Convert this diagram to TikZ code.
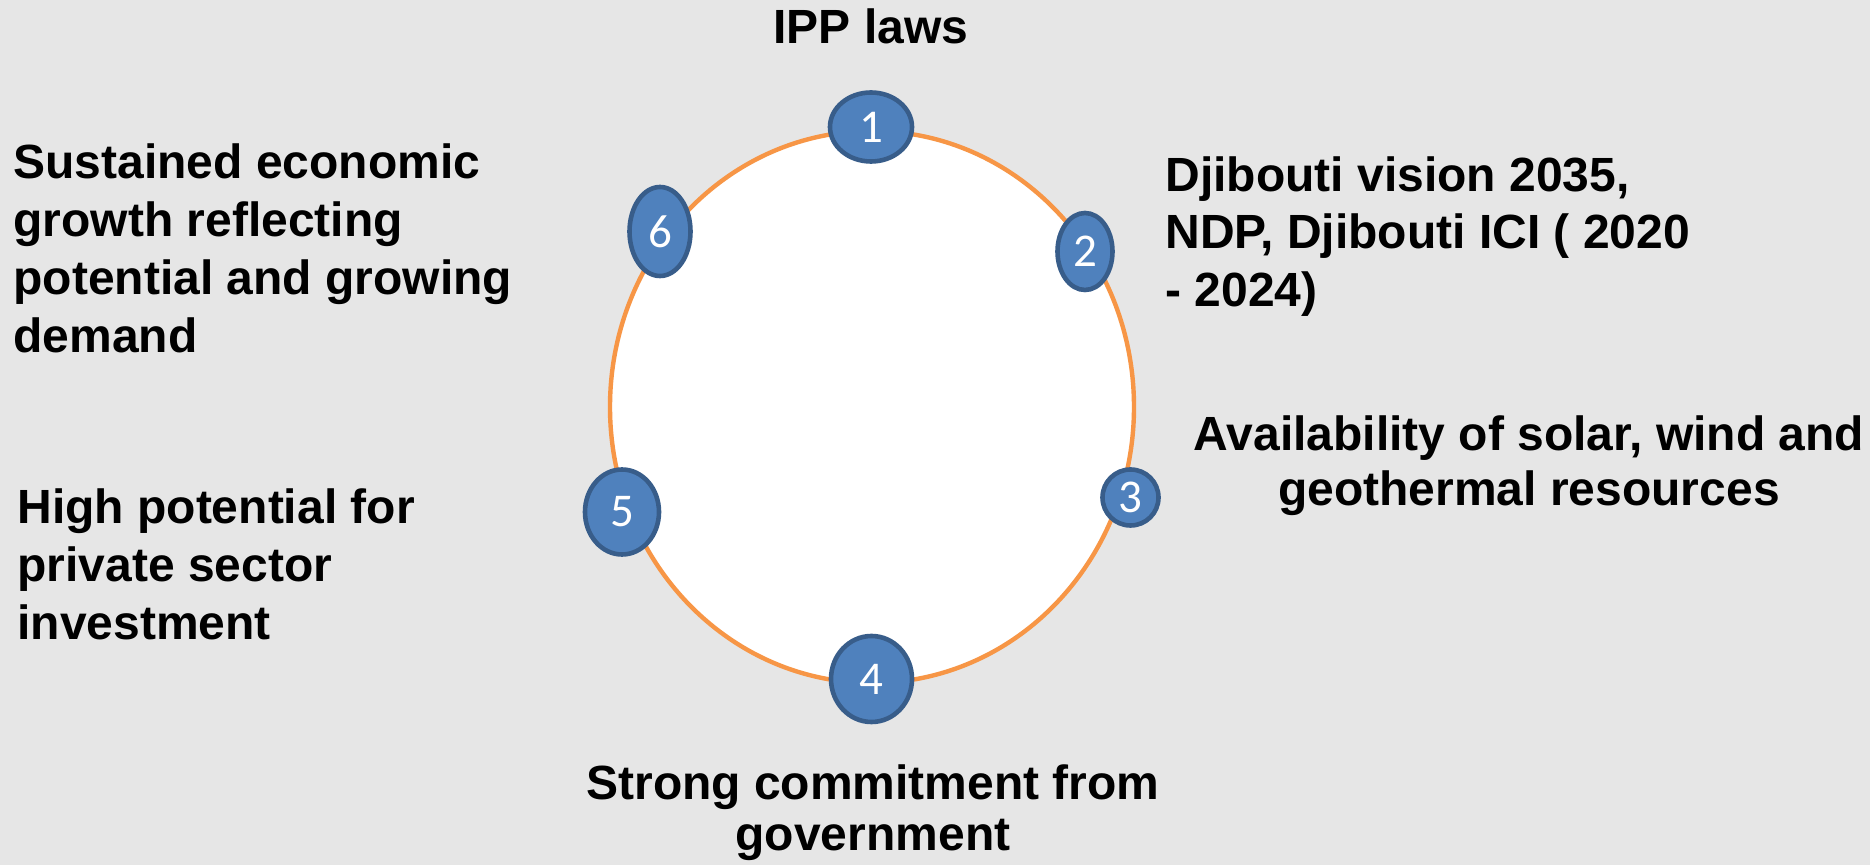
\documentclass[tikz,border=0pt]{standalone}
\usepackage{fontspec}
\setmainfont{Liberation Sans}
\newfontfamily\numfont{Carlito}
\usetikzlibrary{shapes.geometric}

\definecolor{slidebg}{HTML}{E6E6E6}
\definecolor{ringorange}{HTML}{F79646}
\definecolor{badgefill}{HTML}{4F81BD}
\definecolor{badgeline}{HTML}{385D8A}

\tikzset{
  ring/.style={ellipse, draw=ringorange, line width=2.2pt, fill=white, inner sep=0pt},
  badge/.style={ellipse, draw=badgeline, line width=2.3pt, fill=badgefill, inner sep=0pt,
    text=white, font=\numfont\fontsize{23.5pt}{27pt}\selectfont},
  lbl/.style={inner sep=0pt, text=black, font=\bfseries\fontsize{24pt}{29pt}\selectfont},
}

\begin{document}
\begin{tikzpicture}[x=0.5pt, y=-0.5pt]
  % page background
  \fill[slidebg] (0,0) rectangle (1870,865);
  \useasboundingbox (0,0) rectangle (1870,865);

  % central ring
  \node[ring, minimum width=262pt, minimum height=276pt] (ring) at (872,407) {};

  % numbered badges on the ring
  \node[badge, minimum width=41pt,   minimum height=34.5pt] (b1) at (871,127)   {1};
  \node[badge, minimum width=27.5pt, minimum height=38.5pt] (b2) at (1085,251.5) {2};
  \node[badge, minimum width=28pt,   minimum height=28pt]   (b3) at (1130.5,497.5) {3};
  \node[badge, minimum width=40.5pt, minimum height=43pt]   (b4) at (871.5,679) {4};
  \node[badge, minimum width=37pt,   minimum height=42.5pt] (b5) at (622,512)   {5};
  \node[badge, minimum width=30.5pt, minimum height=44.5pt] (b6) at (660,231.5) {6};

  % labels (multi-line nodes are placed by the baseline of their last line)
  \node[lbl, anchor=base] (t1) at (871,44) {IPP laws};
  \node[lbl, anchor=base west, align=left,
        font=\bfseries\fontsize{24pt}{28.75pt}\selectfont] (t2) at (1165,306.5)
    {Djibouti vision 2035,\\NDP, Djibouti ICI ( 2020\\- 2024)};
  \node[lbl, anchor=base, align=center,
        font=\bfseries\fontsize{24pt}{27.5pt}\selectfont] (t3) at (1529,506)
    {Availability of solar, wind and\\geothermal resources};
  \node[lbl, anchor=base, align=center,
        font=\bfseries\fontsize{24pt}{25.5pt}\selectfont] (t4) at (873,850)
    {Strong commitment from\\government};
  \node[lbl, anchor=base west, align=left] (t5) at (17,640)
    {High potential for\\private sector\\investment};
  \node[lbl, anchor=base west, align=left,
        font=\bfseries\fontsize{24pt}{29.15pt}\selectfont] (t6) at (13,353)
    {Sustained economic\\growth reflecting\\potential and growing\\demand};
\end{tikzpicture}
\end{document}
